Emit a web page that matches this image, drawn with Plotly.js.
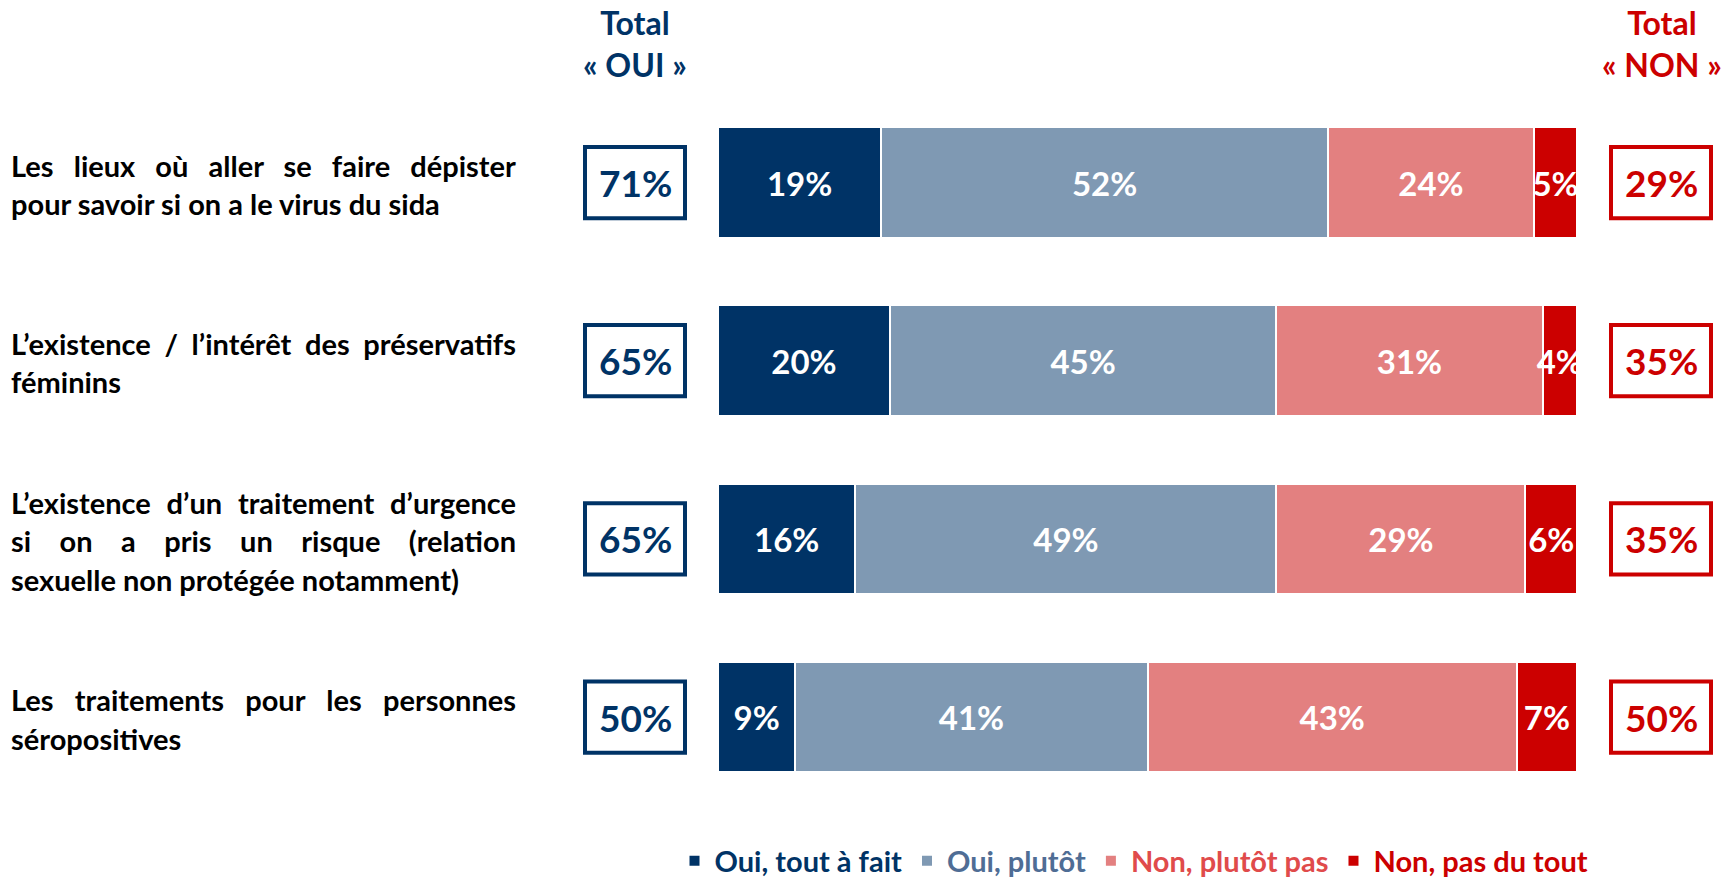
<!DOCTYPE html>
<html>
<head>
<meta charset="utf-8">
<script src="https://cdn.plot.ly/plotly-3.0.1.min.js"></script>
<style>
html,body{margin:0;padding:0;background:#fff;}
#chart{width:1736px;height:884px;}
</style>
</head>
<body>
<div id="chart"></div>
<script>
// ---- DATA ----
const categories = [
  "Les lieux où aller se faire dépister<br>pour savoir si on a le virus du sida",
  "L’existence / l’intérêt des préservatifs<br>féminins",
  "L’existence d’un traitement d’urgence<br>si on a pris un risque (relation<br>sexuelle non protégée notamment)",
  "Les traitements pour les personnes<br>séropositives"
];
const seriesNames = ["Oui, tout à fait", "Oui, plutôt", "Non, plutôt pas", "Non, pas du tout"];
const ouiToutAFait = [19, 20, 16, 9];
const ouiPlutot = [52, 45, 49, 41];
const nonPlutotPas = [24, 31, 29, 43];
const nonPasDuTout = [5, 4, 6, 7];
const totalOui = [71, 65, 65, 50];
const totalNon = [29, 35, 35, 50];
const headerOui = "Total<br>« OUI »";
const headerNon = "Total<br>« NON »";

// ---- STYLE ----
const FONT = "Lato, 'Open Sans', sans-serif";
const barColors = ["#003366", "#7F99B3", "#E38080", "#CC0000"];
const legendTextColors = ["#003366", "#4F6D95", "#E04B4B", "#CC0000"];
const NAVY = "#003366", RED = "#CC0000";
const W = 1736, H = 884;

const seriesValues = [ouiToutAFait, ouiPlutot, nonPlutotPas, nonPasDuTout];
const idx = categories.map((c, i) => i);

const traces = seriesValues.map((vals, s) => ({
  type: "bar",
  orientation: "h",
  name: '<span style="color:' + legendTextColors[s] + '">' + seriesNames[s] + '</span>',
  x: vals,
  y: idx,
  width: 0.62,
  marker: {color: barColors[s], line: {color: "#ffffff", width: 2}},
  text: vals.map(v => v + "%"),
  textposition: "inside",
  insidetextanchor: "middle",
  textangle: 0,
  constraintext: "none",
  insidetextfont: {family: FONT, size: 33, color: "#ffffff", weight: 700},
  hoverinfo: "skip"
}));

const annotations = [];
const shapes = [];
const justifyIdx = [];
const LINE_H = 38.5;

categories.forEach((cat, i) => {
  const lines = cat.split("<br>");
  const n = lines.length;
  lines.forEach((ln, j) => {
    if (j < n - 1) justifyIdx.push(annotations.length);
    annotations.push({
      xref: "paper", yref: "y", x: 9 / W, y: i,
      xanchor: "left", yanchor: "middle", align: "left",
      yshift: -(j - (n - 1) / 2) * LINE_H - 2,
      text: ln, showarrow: false,
      font: {family: FONT, size: 29, color: "#000000", weight: 700}
    });
  });
  // totals boxes
  shapes.push({type: "rect", xref: "paper", yref: "y",
    x0: 585 / W, x1: 685 / W, y0: i - 0.2, y1: i + 0.2,
    line: {color: NAVY, width: 4}, fillcolor: "rgba(0,0,0,0)"});
  shapes.push({type: "rect", xref: "paper", yref: "y",
    x0: 1611 / W, x1: 1711 / W, y0: i - 0.2, y1: i + 0.2,
    line: {color: RED, width: 4}, fillcolor: "rgba(0,0,0,0)"});
  annotations.push({xref: "paper", yref: "y", x: 635 / W, y: i, xanchor: "center", yanchor: "middle",
    text: totalOui[i] + "%", showarrow: false,
    font: {family: FONT, size: 37, color: NAVY, weight: 700}});
  annotations.push({xref: "paper", yref: "y", x: 1661 / W, y: i, xanchor: "center", yanchor: "middle",
    text: totalNon[i] + "%", showarrow: false,
    font: {family: FONT, size: 37, color: RED, weight: 700}});
});

annotations.push({xref: "paper", yref: "paper", x: 635 / W, y: 1 - 43 / H, xanchor: "center", yanchor: "middle",
  text: headerOui, showarrow: false, font: {family: FONT, size: 32, color: NAVY, weight: 700}});
annotations.push({xref: "paper", yref: "paper", x: 1662 / W, y: 1 - 43 / H, xanchor: "center", yanchor: "middle",
  text: headerNon, showarrow: false, font: {family: FONT, size: 32, color: RED, weight: 700}});

const layout = {
  width: W, height: H,
  margin: {l: 0, r: 0, t: 0, b: 0, autoexpand: false},
  paper_bgcolor: "#ffffff", plot_bgcolor: "#ffffff",
  barmode: "stack",
  bargap: 0,
  xaxis: {domain: [718 / W, 1577 / W], range: [0, 100], visible: false, fixedrange: true},
  yaxis: {domain: [0.0881, 0.8943], range: [3.5, -0.5], visible: false, fixedrange: true},
  showlegend: true,
  legend: {orientation: "h", x: 1134 / W, xanchor: "center", y: 1 - 861 / H, yanchor: "middle",
    font: {family: FONT, size: 29, weight: 700}, itemwidth: 30, traceorder: "normal",
    bgcolor: "rgba(0,0,0,0)"},
  annotations: annotations,
  shapes: shapes,
  hovermode: false
};

Plotly.newPlot("chart", traces, layout, {staticPlot: true, displayModeBar: false}).then(gd => {
  const TARGET_RIGHT = 516;
  const groups = gd.querySelectorAll(".annotation");
  justifyIdx.forEach(k => {
    const g = groups[k];
    if (!g) return;
    const t = g.querySelector("text.annotation-text");
    if (!t) return;
    const txt = t.textContent;
    const spaces = (txt.match(/ /g) || []).length;
    if (!spaces) return;
    const r = t.getBoundingClientRect();
    const extra = (TARGET_RIGHT - r.right) / spaces;
    t.style.wordSpacing = extra + "px";
  });
});
</script>
</body>
</html>
